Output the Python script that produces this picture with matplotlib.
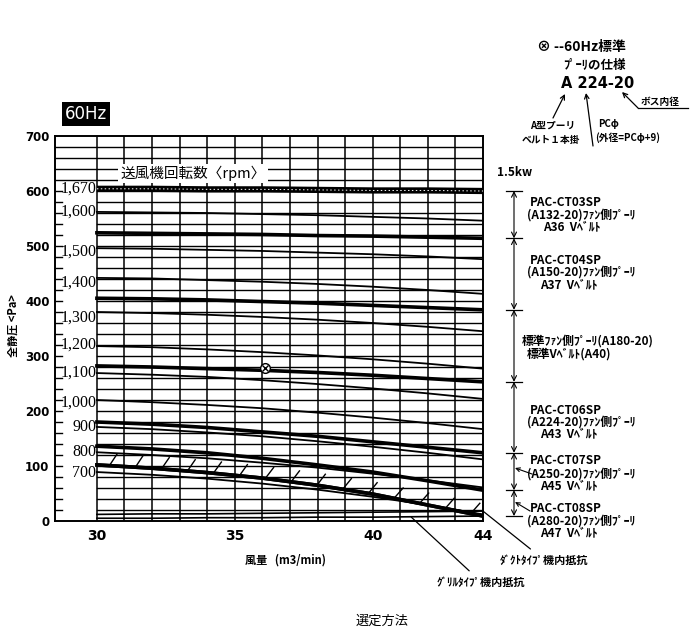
import numpy as np
import matplotlib.pyplot as plt
from matplotlib import patheffects
from matplotlib.transforms import blended_transform_factory

plt.rcParams['font.family'] = ['Noto Sans CJK JP', 'DejaVu Sans']

W, H = 692, 631

flow = [30, 32, 34, 36, 38, 40, 42, 44]

# fan speed curves, total static pressure (Pa)
rpm_1600 = [562, 561, 560, 558, 556, 553, 550, 546]
rpm_1500 = [496, 495, 493, 491, 488, 485, 481, 476]
rpm_1400 = [442, 441, 438, 435, 431, 426, 420, 413]
rpm_1300 = [380, 378, 375, 371, 366, 360, 353, 345]
rpm_1200 = [318, 316, 312, 307, 301, 294, 286, 277]
rpm_1100 = [269, 266, 262, 256, 249, 241, 232, 222]
rpm_1000 = [220, 216, 211, 205, 197, 188, 178, 167]
rpm_900 = [171, 167, 161, 154, 145, 135, 124, 112]
rpm_800 = [125, 120, 114, 106, 97, 86, 74, 61]
rpm_700 = [89, 84, 77, 68, 57, 44, 29, 12]

# pulley range boundaries
limit_1670 = [604, 604, 603, 603, 602, 601, 601, 600]
bound_ct03 = [524, 523, 522, 521, 519, 518, 516, 514]
bound_ct04 = [405, 404, 402, 399, 396, 392, 388, 384]
bound_std = [282, 280, 277, 274, 270, 265, 259, 253]
bound_ct06 = [180, 176, 170, 162, 154, 144, 134, 124]
bound_ct07 = [136, 131, 124, 114, 102, 89, 73, 56]
limit_700 = [102, 96, 88, 78, 65, 49, 29, 9]

# internal resistance
duct_res = [12, 13, 13, 14, 15, 16, 17, 18]
grille_res = [5, 5, 6, 6, 7, 7, 8, 9]

# 60Hz standard point
std_flow, std_press = 36.1, 278

rpm_names = ['1,670', '1,600', '1,500', '1,400', '1,300', '1,200',
             '1,100', '1,000', '900', '800', '700']
rpm_label_y = [605, 562, 489, 433, 369, 320, 269, 216, 171, 125, 87]

x_ticks = [30, 35, 40, 44]
y_ticks = list(range(0, 701, 100))


def fx(px):
    return px / W


def fy(py):
    return 1 - py / H


fig = plt.figure(figsize=(W / 100, H / 100), dpi=100)
ax = fig.add_axes([fx(55), fy(521), (483 - 55) / W, (521 - 136) / H])
ax.set_xlim(28.48, 44)
ax.set_ylim(0, 700)

# grid
for yy in range(20, 700, 20):
    x0 = 28.48 if yy >= 620 else 30
    ax.plot([x0, 44], [yy, yy], color='black', lw=1.0, zorder=1)
    if yy < 620:
        ax.plot([28.48, 28.75], [yy, yy], color='black', lw=1.0, zorder=1)
for xx in range(30, 44):
    ax.plot([xx, xx], [0, 700], color='black', lw=1.1, zorder=1)

for curve in [rpm_1600, rpm_1500, rpm_1400, rpm_1300, rpm_1200, rpm_1100,
              rpm_1000, rpm_900, rpm_800, rpm_700]:
    ax.plot(flow, curve, color='black', lw=1.3, zorder=2)

for curve in [bound_ct03, bound_ct04, bound_std, bound_ct06, bound_ct07]:
    ax.plot(flow, curve, color='black', lw=2.6, zorder=3)

ax.plot(flow, limit_700, color='black', lw=2.6, zorder=3,
        path_effects=[patheffects.Normal(),
                      patheffects.withTickedStroke(angle=60, spacing=18, length=0.55,
                                                   linewidth=1.0)])

ax.plot(flow, limit_1670, color='black', lw=4.5, zorder=3, solid_capstyle='butt')
ax.plot(flow, limit_1670, color='white', lw=0.7, zorder=4, dashes=(1.5, 2.5))

ax.plot(flow, duct_res, color='black', lw=1.2, zorder=2)
ax.plot(flow, grille_res, color='black', lw=1.2, zorder=2)

ax.plot([std_flow], [std_press], marker='o', ms=7, mfc='white', mec='black', mew=1.0, zorder=5)
ax.plot([std_flow], [std_press], marker='x', ms=4.5, color='black', mew=1.0, zorder=6)

for name, yy in zip(rpm_names, rpm_label_y):
    ax.text(29.98, yy, name, ha='right', va='center', fontsize=11.5,
            family=['Liberation Serif', 'DejaVu Serif'], zorder=5)

ax.text(30.85, 632, '送風機回転数〈rpm〉', ha='left', va='center', fontsize=10.5,
        zorder=5, bbox=dict(facecolor='white', edgecolor='none', pad=1.5))

for s in ax.spines.values():
    s.set_linewidth(1.4)
ax.set_xticks(x_ticks)
ax.set_yticks(y_ticks)
ax.tick_params(length=0, pad=6)
for lab in ax.get_xticklabels():
    lab.set_fontweight('bold')
    lab.set_fontsize(10)
    lab.set_family('DejaVu Sans')
for lab in ax.get_yticklabels():
    lab.set_fontweight('bold')
    lab.set_fontsize(8.5)
    lab.set_family('DejaVu Sans')
ax.tick_params(axis='y', pad=4)

# right-hand bracket of pulley ranges
trans = blended_transform_factory(ax.transAxes, ax.transData)
bx = (514 - 55) / 428
bracket = [limit_1670[-1], bound_ct03[-1], bound_ct04[-1], bound_std[-1],
           bound_ct06[-1], bound_ct07[-1], limit_700[-1]]
for yy in bracket:
    ax.plot([bx - 0.019, bx + 0.019], [yy, yy], transform=trans, color='black',
            lw=0.9, clip_on=False)
for y_hi, y_lo in zip(bracket[:-1], bracket[1:]):
    ax.annotate('', xy=(bx, y_lo), xytext=(bx, y_hi), xycoords=trans, textcoords=trans,
                arrowprops=dict(arrowstyle='<->', lw=0.8, shrinkA=0, shrinkB=0,
                                mutation_scale=9, color='black'))

kw = dict(fontsize=8.5, fontweight='bold', ha='left', va='center')
right_labels = [
    (530, 203, 'PAC-CT03SP'), (527, 215, '(A132-20)ﾌｧﾝ側ﾌﾟｰﾘ'), (543, 227, 'A36  Vﾍﾞﾙﾄ'),
    (530, 260, 'PAC-CT04SP'), (527, 272, '(A150-20)ﾌｧﾝ側ﾌﾟｰﾘ'), (540, 285, 'A37  Vﾍﾞﾙﾄ'),
    (522, 341, '標準ﾌｧﾝ側ﾌﾟｰﾘ(A180-20)'), (527, 354, '標準Vﾍﾞﾙﾄ(A40)'),
    (530, 410, 'PAC-CT06SP'), (527, 422, '(A224-20)ﾌｧﾝ側ﾌﾟｰﾘ'), (540, 434, 'A43  Vﾍﾞﾙﾄ'),
    (530, 461, 'PAC-CT07SP'), (527, 474, '(A250-20)ﾌｧﾝ側ﾌﾟｰﾘ'), (540, 486, 'A45  Vﾍﾞﾙﾄ'),
    (530, 509, 'PAC-CT08SP'), (527, 521, '(A280-20)ﾌｧﾝ側ﾌﾟｰﾘ'), (540, 533, 'A47  Vﾍﾞﾙﾄ'),
]
for px_, py_, t in right_labels:
    fig.text(fx(px_), fy(py_), t, **kw)

fig.text(fx(497), fy(172), '1.5kw', **kw)

# small pointers from CT07SP / CT08SP labels to the bracket
for (x0, y0), (x1, y1) in [((532, 474), (515, 468)), ((530, 511), (515, 502))]:
    ax.annotate('', xy=(x1, H - y1), xytext=(x0, H - y0), xycoords='figure pixels',
                textcoords='figure pixels',
                arrowprops=dict(arrowstyle='->', lw=0.8, shrinkA=0, shrinkB=0, mutation_scale=7))

# top-right pulley spec
fig.text(fx(537), fy(47), '⊗ --60Hz標準', fontsize=10, fontweight='bold', ha='left', va='center')
fig.text(fx(563), fy(65), 'ﾌﾟｰﾘの仕様', fontsize=9, fontweight='bold', ha='left', va='center')
fig.text(fx(561), fy(84), 'A 224-20', fontsize=10.5, fontweight='bold', ha='left', va='center',
         family='DejaVu Sans')
fig.text(fx(641), fy(102), 'ボス内径', fontsize=7, fontweight='bold', ha='left', va='center')
fig.text(fx(530), fy(126), 'A型プーリ', fontsize=7, fontweight='bold', ha='left', va='center')
fig.text(fx(522), fy(140), 'ベルト１本掛', fontsize=7, fontweight='bold', ha='left', va='center')
fig.text(fx(598), fy(124), 'PCφ', fontsize=7, fontweight='bold', ha='left', va='center')
fig.text(fx(595), fy(138), '(外径=PCφ+9)', fontsize=7, fontweight='bold', ha='left', va='center')

for (x0, y0), (x1, y1) in [((553, 118), (565, 94)), ((593, 146), (586, 93)),
                           ((638, 108), (622, 92))]:
    ax.annotate('', xy=(x1, H - y1), xytext=(x0, H - y0), xycoords='figure pixels',
                textcoords='figure pixels',
                arrowprops=dict(arrowstyle='->', lw=0.9, shrinkA=0, shrinkB=0, mutation_scale=8))
fig.add_artist(plt.Line2D([fx(638), fx(688)], [fy(108), fy(108)], color='black', lw=0.9))

# 60Hz badge
fig.text(fx(86), fy(114), '60Hz', color='white', fontsize=12, ha='center', va='center',
         family='DejaVu Sans', bbox=dict(facecolor='black', edgecolor='none', pad=2))

# axis titles
fig.text(fx(13), fy(326), '全静圧 <Pa>', rotation=90, fontsize=8, fontweight='bold',
         ha='center', va='center')
fig.text(fx(245), fy(560), '風量   (m3/min)', fontsize=8, fontweight='bold', ha='left',
         va='center')

# internal resistance leaders
ax.annotate('ﾀﾞｸﾄﾀｲﾌﾟ機内抵抗', xy=(flow[-1], duct_res[-1]), xytext=(500, H - 560),
            textcoords='figure pixels', fontsize=8, fontweight='bold', ha='left', va='center',
            arrowprops=dict(arrowstyle='-', lw=0.9, shrinkA=2, shrinkB=0))
ax.annotate('ｸﾞﾘﾙﾀｲﾌﾟ機内抵抗', xy=(41.4, 7), xytext=(437, H - 582),
            textcoords='figure pixels', fontsize=8, fontweight='bold', ha='left', va='center',
            arrowprops=dict(arrowstyle='-', lw=0.9, shrinkA=2, shrinkB=0))

fig.text(fx(382), fy(621), '選定方法', fontsize=9.5, ha='center', va='center')

fig.savefig('out.png', dpi=100)
